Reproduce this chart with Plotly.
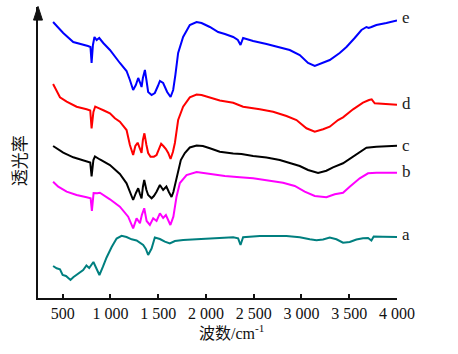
import plotly.graph_objects as go

# Wavenumbers (cm^-1) and relative transmittance (arbitrary units) per spectrum
a_x = [400, 437, 472, 500, 535, 559, 582, 611, 663, 715, 749, 778, 822, 848, 885, 922, 960, 1013,
       1065, 1117, 1169, 1222, 1274, 1343, 1371, 1395, 1431, 1465, 1518, 1570, 1622, 1675, 1762, 1902,
       2198, 2285, 2337, 2362, 2389, 2564, 2843, 2982, 3087, 3157, 3226, 3296, 3366, 3435, 3505, 3575,
       3644, 3697, 3732, 3756, 3853, 4000]
a_y = [32, 29.7, 28.7, 23, 22, 19.7, 18, 20.7, 24, 28, 32.5, 30, 36, 31, 23, 31.3, 40.5, 51,
       59.5, 62.2, 61, 58.7, 57.5, 53, 49, 43, 49.5, 60.5, 59, 56.3, 54.5, 57, 58, 58.7,
       60.5, 60.7, 59.7, 53, 60.7, 62, 62, 60.7, 58.7, 57.7, 58.5, 60.5, 58.7, 55.3, 56, 58.5,
       59.8, 60, 57.5, 61.5, 61.3, 61]

b_x = [400, 454, 542, 646, 751, 793, 806, 824, 862, 890, 995, 1099, 1186, 1238, 1274, 1309, 1329, 1354,
       1379, 1413, 1448, 1483, 1518, 1552, 1581, 1628, 1659, 1692, 1727, 1797, 1902, 2041, 2198, 2355,
       2494, 2668, 2807, 2930, 3034, 3139, 3261, 3348, 3435, 3505, 3610, 3697, 3784, 4000]
b_y = [116.3, 111.3, 106.3, 103, 100.7, 99.7, 87, 105, 104.7, 105.3, 98.7, 91.3, 81.3, 69.7, 79.7, 74.7, 83, 89.7,
       77, 73, 79.7, 77, 84.7, 80, 83, 73, 81.3, 101.3, 115, 123, 126, 124, 122, 120.7,
       119.7, 117.3, 115.3, 112, 106.3, 102, 100.7, 103.7, 105.3, 111.3, 119.7, 124.7, 125.3, 125.3]

c_x = [400, 506, 611, 715, 789, 803, 822, 838, 859, 890, 995, 1099, 1169, 1204, 1238, 1267, 1291, 1309,
       1326, 1340, 1354, 1377, 1395, 1431, 1455, 1483, 1518, 1552, 1586, 1612, 1640, 1659, 1675, 1709,
       1737, 1779, 1831, 1902, 1968, 2041, 2145, 2285, 2372, 2494, 2634, 2773, 2877, 2982, 3069, 3139,
       3174, 3261, 3330, 3435, 3540, 3610, 3680, 3784, 3889, 4000]
c_y = [152, 145.3, 140.7, 137.3, 135.5, 121.5, 138, 141.5, 140.5, 138.5, 133, 124, 114.7, 106, 98, 105, 109.7, 104,
       99.7, 111, 118, 108, 103, 99.7, 102, 106.3, 113, 108, 111.5, 106, 101, 106, 113, 126,
       138, 145, 150.5, 152.5, 152, 149.7, 146.3, 144.5, 144, 142, 140.5, 138, 135.3, 132, 128, 126.3,
       125, 127.3, 130.7, 134.7, 141.3, 146.3, 150.3, 151.3, 151.5, 152.3]

d_x = [400, 472, 542, 646, 751, 789, 803, 822, 841, 859, 883, 932, 995, 1047, 1099, 1169, 1204, 1238,
       1261, 1285, 1303, 1326, 1340, 1356, 1377, 1395, 1420, 1455, 1483, 1507, 1531, 1554, 1581, 1605,
       1630, 1654, 1675, 1709, 1761, 1831, 1902, 1954, 2075, 2145, 2285, 2389, 2564, 2703, 2843, 2948,
       3052, 3139, 3226, 3296, 3383, 3435, 3540, 3644, 3707, 3735, 3767, 3889, 4000]
d_y = [214, 200.7, 196.3, 191.3, 188.7, 187.5, 169.5, 186, 191.5, 190.5, 189.7, 187.5, 184.7, 179.7, 176.3, 168, 153, 143,
       152, 155.3, 150, 145, 158, 164.7, 153, 145, 141.3, 141.3, 143, 149, 154.3, 152, 149, 145,
       139, 146, 155, 178, 191.3, 200.7, 203.5, 203, 199.7, 197.5, 195.3, 191.3, 188.7, 186.3, 182, 178,
       169.7, 166.3, 168.7, 171.3, 178, 180.7, 188.7, 195.3, 198, 198.7, 194.7, 194, 193.3]

e_x = [400, 506, 611, 699, 765, 791, 803, 817, 833, 856, 883, 925, 995, 1099, 1169, 1204, 1238, 1266,
       1291, 1308, 1326, 1340, 1361, 1377, 1395, 1431, 1465, 1497, 1518, 1552, 1594, 1630, 1657, 1680,
       1709, 1761, 1831, 1902, 1954, 2041, 2128, 2198, 2285, 2334, 2362, 2389, 2494, 2634, 2773, 2877,
       2982, 3069, 3139, 3226, 3296, 3400, 3471, 3557, 3628, 3680, 3704, 3732, 3784, 3889, 3976, 4000]
e_y = [276, 265, 256, 254, 252, 251, 235, 253, 261, 258, 260, 255, 248, 235, 227, 218, 208, 213,
       220, 216, 211, 220, 228, 218, 206, 203, 205, 212, 217, 215, 206, 201, 208, 223,
       245, 261, 273, 276, 275, 271, 266, 264, 261, 258, 253, 260, 257, 254, 251, 248,
       243, 235, 232, 235, 238, 245, 251, 260, 268, 271, 270, 271, 273, 275, 277, 277.5]

series_names = ["a", "b", "c", "d", "e"]
series_colors = ["#007F7F", "#FF00FF", "#000000", "#FF0000", "#0000FF"]
label_y = [63.7, 126.3, 153, 194.7, 280.7]

tick_vals = [500, 1000, 1500, 2000, 2500, 3000, 3500, 4000]
tick_text = ["500", "1 000", "1 500", "2 000", "2 500", "3 000", "3 500", "4 000"]

xs = [a_x, b_x, c_x, d_x, e_x]
ys = [a_y, b_y, c_y, d_y, e_y]

fig = go.Figure()
for name, col, x, y in zip(series_names, series_colors, xs, ys):
    fig.add_trace(go.Scatter(x=x, y=y, mode="lines", name=name,
                             line=dict(color=col, width=2), showlegend=False))

for name, ly in zip(series_names, label_y):
    fig.add_annotation(x=4000, y=ly, xref="x", yref="y", text=name, showarrow=False,
                       xanchor="left", yanchor="middle", xshift=3,
                       font=dict(family="Liberation Serif", size=17, color="#222"))

serif = "Liberation Serif, Noto Sans CJK SC"
fig.update_layout(
    width=458, height=354,
    margin=dict(l=38, r=61, t=7, b=56),
    paper_bgcolor="white", plot_bgcolor="white",
    xaxis=dict(range=[242, 4000], tickvals=tick_vals, ticktext=tick_text,
               showline=True, linecolor="#111", linewidth=2, ticks="inside",
               ticklen=4, tickwidth=1.5, tickcolor="#111", showgrid=False, zeroline=False,
               tickfont=dict(family="Liberation Serif", size=16, color="#111")),
    yaxis=dict(range=[0, 291], showline=True, linecolor="#111", linewidth=2,
               showticklabels=False, ticks="", showgrid=False, zeroline=False),
)

# x title
fig.add_annotation(x=0.54, y=0, xref="paper", yref="paper", yshift=-34,
                   text="波数/cm<sup>-1</sup>", showarrow=False, xanchor="center", yanchor="middle",
                   font=dict(family=serif, size=16, color="#111"))
# y title
fig.add_annotation(x=0, y=0.47, xref="paper", yref="paper", xshift=-18,
                   text="透光率", showarrow=False, textangle=-90, xanchor="center", yanchor="middle",
                   font=dict(family=serif, size=17, color="#111"))

# arrow head on y axis
fig.add_shape(type="path", xref="paper", yref="paper",
              path="M -0.0125 0.955 L 0 1.002 L 0.0125 0.955 Z",
              fillcolor="#111", line=dict(color="#111", width=1))

fig.write_html("out.html")
